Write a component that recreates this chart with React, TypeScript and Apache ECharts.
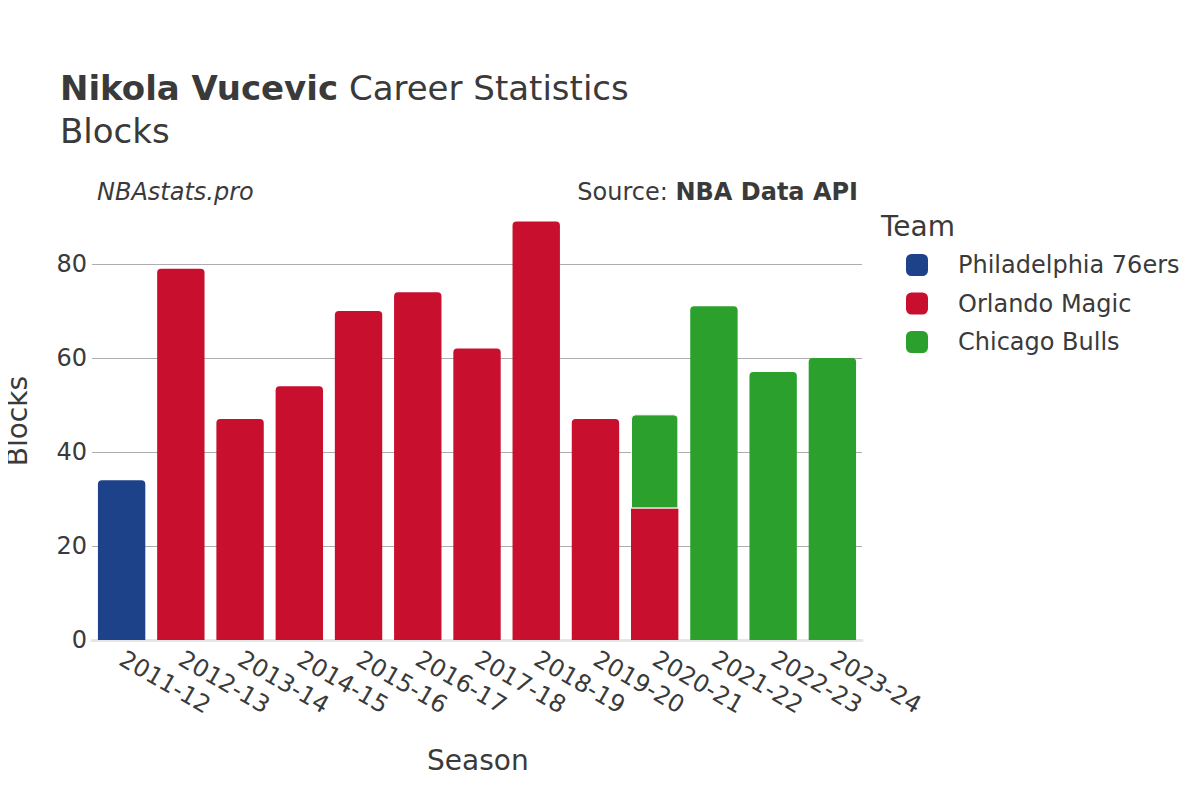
import React, { useEffect, useRef } from "react";
import * as echarts from "echarts";

const seasons = ["2011-12","2012-13","2013-14","2014-15","2015-16","2016-17","2017-18","2018-19","2019-20","2020-21","2021-22","2022-23","2023-24"];
const phi = [34, null, null, null, null, null, null, null, null, null, null, null, null];
const orl = [null, 79, 47, 54, 70, 74, 62, 89, 47, 28, null, null, null];
const chi = [null, null, null, null, null, null, null, null, null, 20, 71, 57, 60];
const teams = ["Philadelphia 76ers", "Orlando Magic", "Chicago Bulls"];
const colors = ["#1d428a", "#c8102e", "#2ca02c"];
const yTicks = [0, 20, 40, 60, 80];

const FONT = "DejaVu Sans";
const TXT = "#3a3a3a";

export default function App() {
  const ref = useRef<HTMLDivElement>(null);
  useEffect(() => {
    const chart = echarts.init(ref.current!, null, { renderer: "svg" });
    const seriesData = [phi, orl, chi];
    const mkData = (arr: (number | null)[], si: number) =>
      arr.map((v, i) => {
        const below = si === 1 && chi[i] != null && v != null;
        const above = si === 2 && orl[i] != null && v != null;
        if (below) return { value: v, itemStyle: { borderRadius: 0 } };
        if (above) return { value: v, itemStyle: { borderColor: "#ffffff", borderWidth: 1 } };
        return v;
      });
    chart.setOption({
      animation: false,
      textStyle: { fontFamily: FONT },
      grid: { left: 92, right: 338, top: 200, bottom: 160, containLabel: false },
      legend: {
        orient: "vertical",
        left: 906,
        top: 253,
        padding: 0,
        itemWidth: 22,
        itemHeight: 22,
        itemGap: 14.5,
        icon: "roundRect",
        data: teams,
        textStyle: { fontFamily: FONT, fontSize: 24, color: TXT, padding: [0, 0, 0, 25] },
      },
      xAxis: {
        type: "category",
        data: seasons,
        axisLine: { show: true, lineStyle: { color: "#e6e6e6", width: 3 } },
        axisTick: { show: false },
        axisLabel: { rotate: -30, fontSize: 24, color: TXT, fontFamily: FONT, margin: 17, interval: 0 },
      },
      yAxis: {
        type: "value",
        min: 0,
        max: 93.6,
        interval: 20,
        axisLine: { show: false },
        axisTick: { show: false },
        axisLabel: {
          fontSize: 24, color: TXT, fontFamily: FONT, margin: 5, showMaxLabel: false,
          formatter: (v: number) => (yTicks.includes(v) ? String(v) : ""),
        },
        splitLine: { show: true, showMaxLine: false, lineStyle: { color: "#adadad", width: 1 } },
      },
      series: teams.map((t, si) => ({
        name: t,
        type: "bar",
        stack: "total",
        barCategoryGap: "20%",
        itemStyle: { color: colors[si], borderRadius: [4, 4, 0, 0] },
        data: mkData(seriesData[si], si),
      })),
      graphic: [
        {
          type: "text", left: 60, top: 71,
          style: {
            text: "{b|Nikola Vucevic}{r|\u00a0Career Statistics}",
            rich: {
              b: { fontFamily: FONT, fontSize: 34, fontWeight: "bold", fill: TXT },
              r: { fontFamily: FONT, fontSize: 34, fill: TXT },
            },
          },
        },
        { type: "text", left: 60, top: 114, style: { text: "Blocks", font: `34px "${FONT}"`, fill: TXT } },
        { type: "text", left: 97, top: 180, style: { text: "NBAstats.pro", font: `italic 24px "${FONT}"`, fill: TXT } },
        {
          type: "text", right: 342, top: 180,
          style: {
            text: "{r|Source:\u00a0}{b|NBA Data API}",
            rich: {
              r: { fontFamily: FONT, fontSize: 24, fill: TXT },
              b: { fontFamily: FONT, fontSize: 24, fontWeight: "bold", fill: TXT },
            },
          },
        },
        { type: "text", left: 881, top: 212, style: { text: "Team", font: `28px "${FONT}"`, fill: TXT } },
        { type: "text", left: 427, top: 746, style: { text: "Season", font: `28px "${FONT}"`, fill: TXT } },
        { type: "text", left: 3, top: 376, rotation: Math.PI / 2, style: { text: "Blocks", font: `28px "${FONT}"`, fill: TXT } },
      ],
    });
    return () => chart.dispose();
  }, []);
  return <div ref={ref} style={{ width: 1200, height: 800, margin: -8 }} />;
}
